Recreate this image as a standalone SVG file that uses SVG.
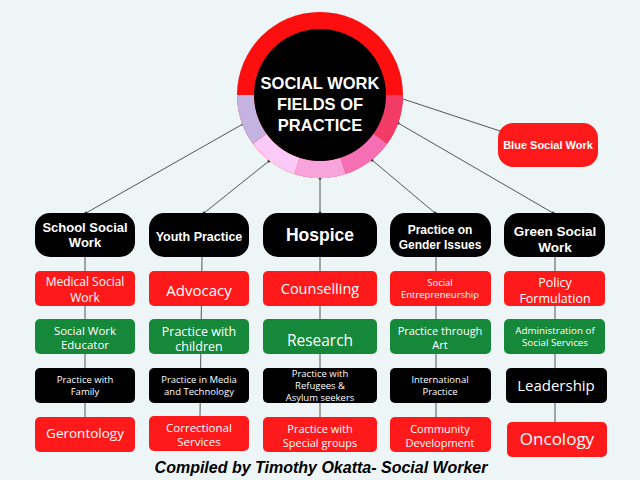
<svg xmlns="http://www.w3.org/2000/svg" width="640" height="480" viewBox="0 0 640 480">
<style>
.bg{fill:#edf5f7}
.blk{fill:#000}
.red{fill:#fe1a1a}
.grn{fill:#16883a}
.hd{font-family:"Liberation Sans",Arial,sans-serif;font-weight:700;fill:#fff;text-anchor:middle}
.tx{font-family:"Open Sans","Noto Sans",sans-serif;fill:#fff;text-anchor:middle}
.ln{stroke:#555;stroke-width:1;fill:none}
.dot{fill:#333}
.foot{font-family:"Liberation Sans",Arial,sans-serif;font-weight:700;font-style:italic;fill:#000;text-anchor:middle}
</style>
<rect class="bg" x="0" y="0" width="640" height="480"/>

<g id="connectors">
<line class="ln" x1="243" y1="124" x2="86" y2="213"/>
<line class="ln" x1="269" y1="161" x2="204" y2="213"/>
<line class="ln" x1="320" y1="178" x2="320" y2="213"/>
<line class="ln" x1="372" y1="160" x2="435" y2="213"/>
<line class="ln" x1="398" y1="123" x2="553" y2="213"/>
<line class="ln" x1="403" y1="99" x2="500" y2="131"/>
<circle class="dot" cx="243" cy="124" r="1.5"/>
<circle class="dot" cx="269" cy="161" r="1.5"/>
<circle class="dot" cx="320" cy="178" r="1.5"/>
<circle class="dot" cx="372" cy="160" r="1.5"/>
<circle class="dot" cx="398" cy="123" r="1.5"/>
<circle class="dot" cx="86" cy="213" r="1.5"/>
<circle class="dot" cx="204" cy="213" r="1.5"/>
<circle class="dot" cx="320" cy="213" r="1.5"/>
<circle class="dot" cx="435" cy="213" r="1.5"/>
<circle class="dot" cx="553" cy="213" r="1.5"/>
<line class="ln" x1="85" y1="257" x2="85" y2="417"/>
<line class="ln" x1="202" y1="257" x2="200" y2="416"/>
<line class="ln" x1="320" y1="257" x2="320" y2="417"/>
<line class="ln" x1="436" y1="257" x2="436" y2="417"/>
<line class="ln" x1="555" y1="257" x2="555" y2="422"/>
</g>

<g id="center">
<circle cx="320" cy="95" r="83" fill="#fe0f0f"/>
<path d="M403 95 A83 83 0 0 1 387.15 143.79 L373.39 133.79 A66 66 0 0 0 386 95 Z" fill="#f23b66"/>
<path d="M387.15 143.79 A83 83 0 0 1 345.65 173.94 L340.39 157.77 A66 66 0 0 0 373.39 133.79 Z" fill="#f56fb4"/>
<path d="M345.65 173.94 A83 83 0 0 1 294.35 173.94 L299.61 157.77 A66 66 0 0 0 340.39 157.77 Z" fill="#f8a3dc"/>
<path d="M294.35 173.94 A83 83 0 0 1 252.85 143.79 L266.61 133.79 A66 66 0 0 0 299.61 157.77 Z" fill="#fbcaf6"/>
<path d="M252.85 143.79 A83 83 0 0 1 237 95 L254 95 A66 66 0 0 0 266.61 133.79 Z" fill="#c4b2e0"/>
<circle cx="320" cy="95" r="66" fill="#000"/>
<text class="hd" x="320" y="89" font-size="16.5">SOCIAL WORK</text>
<text class="hd" x="320" y="110" font-size="16.5">FIELDS OF</text>
<text class="hd" x="320" y="131" font-size="16.5">PRACTICE</text>
</g>

<g id="blue-social-work">
<rect class="red" x="498" y="123" width="100" height="44" rx="15"/>
<text class="hd" x="548" y="149" font-size="11">Blue Social Work</text>
</g>

<g id="school-social-work">
<rect class="blk" x="35" y="213" width="100" height="44" rx="15"/>
<text class="hd" x="85" y="232" font-size="13">School Social</text>
<text class="hd" x="85" y="247" font-size="13">Work</text>
</g>
<g id="youth-practice">
<rect class="blk" x="149" y="213" width="100" height="44" rx="15"/>
<text class="hd" x="199" y="241" font-size="12.5">Youth Practice</text>
</g>
<g id="hospice">
<rect class="blk" x="263" y="213" width="114" height="44" rx="15"/>
<text class="hd" x="320" y="241" font-size="17.5">Hospice</text>
</g>
<g id="gender-issues">
<rect class="blk" x="390" y="213" width="101" height="44" rx="15"/>
<text class="hd" x="440" y="234" font-size="12">Practice on</text>
<text class="hd" x="440" y="249" font-size="12">Gender Issues</text>
</g>
<g id="green-social-work">
<rect class="blk" x="504" y="213" width="101" height="44" rx="15"/>
<text class="hd" x="555" y="236" font-size="13.5">Green Social</text>
<text class="hd" x="555" y="252" font-size="13.5">Work</text>
</g>

<g id="medical-social-work">
<rect class="red" x="35" y="271" width="100" height="35" rx="5"/>
<text class="tx" x="85" y="286" font-size="12">Medical Social</text>
<text class="tx" x="85" y="301.5" font-size="12">Work</text>
</g>
<g id="advocacy">
<rect class="red" x="149" y="271" width="100" height="35" rx="5"/>
<text class="tx" x="199" y="296" font-size="15">Advocacy</text>
</g>
<g id="counselling">
<rect class="red" x="263" y="271" width="114" height="35" rx="5"/>
<text class="tx" x="320" y="294" font-size="14.5">Counselling</text>
</g>
<g id="social-entrepreneurship">
<rect class="red" x="390" y="271" width="101" height="35" rx="5"/>
<text class="tx" x="440" y="286" font-size="9.5">Social</text>
<text class="tx" x="440" y="298" font-size="9.5">Entrepreneurship</text>
</g>
<g id="policy-formulation">
<rect class="red" x="504" y="271" width="101" height="35" rx="5"/>
<text class="tx" x="555" y="287" font-size="12.5">Policy</text>
<text class="tx" x="555" y="302.5" font-size="12.5">Formulation</text>
</g>

<g id="social-work-educator">
<rect class="grn" x="35" y="319" width="100" height="35" rx="5"/>
<text class="tx" x="85" y="335" font-size="11.5">Social Work</text>
<text class="tx" x="85" y="349" font-size="11.5">Educator</text>
</g>
<g id="practice-with-children">
<rect class="grn" x="149" y="319" width="100" height="35" rx="5"/>
<text class="tx" x="199" y="335.5" font-size="12.5">Practice with</text>
<text class="tx" x="199" y="351" font-size="12.5">children</text>
</g>
<g id="research">
<rect class="grn" x="263" y="319" width="114" height="35" rx="5"/>
<text class="tx" x="320" y="346" font-size="15.5">Research</text>
</g>
<g id="practice-through-art">
<rect class="grn" x="390" y="319" width="101" height="35" rx="5"/>
<text class="tx" x="440" y="334.5" font-size="11">Practice through</text>
<text class="tx" x="440" y="348.5" font-size="11">Art</text>
</g>
<g id="administration-social-services">
<rect class="grn" x="504" y="319" width="101" height="35" rx="5"/>
<text class="tx" x="555" y="334" font-size="9.8">Administration of</text>
<text class="tx" x="555" y="346" font-size="9.8">Social Services</text>
</g>

<g id="practice-with-family">
<rect class="blk" x="35" y="368" width="100" height="35" rx="5"/>
<text class="tx" x="85" y="383" font-size="9.5">Practice with</text>
<text class="tx" x="85" y="395" font-size="9.5">Family</text>
</g>
<g id="practice-media-technology">
<rect class="blk" x="149" y="368" width="100" height="35" rx="5"/>
<text class="tx" x="199" y="383" font-size="9.5">Practice in Media</text>
<text class="tx" x="199" y="395" font-size="9.5">and Technology</text>
</g>
<g id="practice-refugees">
<rect class="blk" x="263" y="368" width="114" height="35" rx="5"/>
<text class="tx" x="320" y="377" font-size="9.5">Practice with</text>
<text class="tx" x="320" y="389" font-size="9.5">Refugees &amp;</text>
<text class="tx" x="320" y="401" font-size="9.5">Asylum seekers</text>
</g>
<g id="international-practice">
<rect class="blk" x="390" y="368" width="101" height="35" rx="5"/>
<text class="tx" x="440" y="383" font-size="9.5">International</text>
<text class="tx" x="440" y="395" font-size="9.5">Practice</text>
</g>
<g id="leadership">
<rect class="blk" x="506" y="368" width="101" height="35" rx="5"/>
<text class="tx" x="556" y="391" font-size="15">Leadership</text>
</g>

<g id="gerontology">
<rect class="red" x="35" y="417" width="100" height="35" rx="5"/>
<text class="tx" x="85" y="438" font-size="13.5">Gerontology</text>
</g>
<g id="correctional-services">
<rect class="red" x="149" y="416" width="100" height="35" rx="5"/>
<text class="tx" x="199" y="432" font-size="11.5">Correctional</text>
<text class="tx" x="199" y="446" font-size="11.5">Services</text>
</g>
<g id="practice-special-groups">
<rect class="red" x="263" y="417" width="114" height="35" rx="5"/>
<text class="tx" x="320" y="433" font-size="11">Practice with</text>
<text class="tx" x="320" y="447" font-size="11">Special groups</text>
</g>
<g id="community-development">
<rect class="red" x="390" y="417" width="101" height="35" rx="5"/>
<text class="tx" x="440" y="433" font-size="11">Community</text>
<text class="tx" x="440" y="447" font-size="11">Development</text>
</g>
<g id="oncology">
<rect class="red" x="507" y="422" width="100" height="35" rx="5"/>
<text class="tx" x="557" y="445" font-size="17">Oncology</text>
</g>

<text class="foot" x="321" y="473" font-size="16">Compiled by Timothy Okatta- Social Worker</text>
</svg>
